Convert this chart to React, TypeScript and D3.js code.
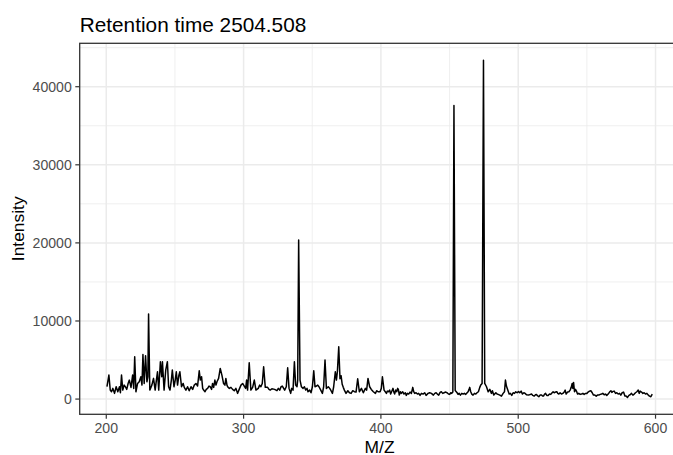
import React from "react";
import * as d3 from "d3";

const chartTitle = "Retention time 2504.508";
const xLabel = "M/Z";
const yLabel = "Intensity";
const xTicks = [200, 300, 400, 500, 600];
const xMinor = [250, 350, 450, 550];
const yTicks = [0, 10000, 20000, 30000, 40000];
const yMinor = [5000, 15000, 25000, 35000, 45000];

const mz = [
  200.5, 201.9, 202.9, 203.8, 204.8, 206.0, 207.2, 208.4, 209.6, 210.3, 211.1, 212.0, 213.0, 213.9, 214.9, 215.9, 216.8, 218.0, 219.2, 220.0,
  220.7, 221.6, 222.8, 224.0, 225.2, 226.0, 226.7, 227.6, 228.6, 229.6, 230.3, 230.8, 231.7, 233.2, 234.4, 235.6, 236.5, 237.3, 238.2, 239.4,
  240.4, 240.9, 242.1, 243.3, 244.5, 245.4, 246.4, 247.4, 248.1, 249.3, 250.2, 251.0, 251.9, 252.9, 253.6, 254.8, 256.0,
  256.8, 258.0, 259.2, 260.4, 261.7, 262.9, 264.1, 265.3, 266.5, 267.7, 268.5, 269.4, 270.2, 270.9, 271.9, 272.8, 273.8, 274.8, 275.7, 276.7,
  277.4, 278.2, 279.1, 279.9, 280.6, 281.8, 283.0, 284.2, 285.4, 286.4, 287.1, 287.9, 288.4, 289.6, 290.8, 292.0, 293.2, 294.4, 295.6, 296.8,
  298.1, 299.3, 300.5, 301.5, 302.2, 302.9, 304.1, 305.3, 306.6, 307.8, 309.0, 310.7, 311.7, 312.6, 313.6, 314.6, 315.8, 317.5, 318.5, 319.4, 320.6,
  322.6, 324.3, 325.3, 326.3, 327.3, 328.2, 329.2, 329.9, 331.1, 332.1, 333.1, 334.3, 335.0, 336.0, 337.0, 337.9, 338.9, 339.4, 340.1, 341.1,
  342.1, 343.3, 344.3, 345.2, 346.2, 346.9, 348.1, 349.1, 350.1, 351.1, 352.0, 353.0, 354.0, 354.9, 356.2, 357.4, 358.3, 359.3, 360.3, 361.7,
  362.7, 363.7, 364.7, 365.6, 366.8, 367.6, 368.3, 369.3, 370.2, 371.0, 371.8, 372.6, 373.4, 374.6, 375.9, 377.1, 378.3, 379.5, 380.7, 381.9,
  383.1, 384.3,
  385.8, 387.2, 388.7, 389.6, 390.6, 391.8, 393.0, 394.5, 396.0, 396.9, 397.9, 399.4, 400.3, 401.1, 402.3, 403.2, 404.0, 404.7, 405.7, 406.4,
  407.1, 408.1, 408.8, 409.6, 410.0, 410.8, 411.5, 412.2, 412.7, 413.4, 414.2, 414.9, 415.9, 416.8, 417.8, 418.5, 419.3, 420.2, 421.2, 422.2,
  423.2, 423.9, 424.6, 425.6, 426.6, 427.5, 428.5, 429.5, 430.7, 431.9, 432.9, 434.3, 435.5, 436.8, 438.2, 439.2, 440.2, 441.1, 442.1, 443.1,
  444.0, 445.0, 446.0,
  447.2, 448.2, 449.2, 450.1, 450.9, 451.6, 452.4, 453.2, 454.1, 455.5, 456.2, 457.0, 457.9, 458.9, 459.9, 460.8, 461.8, 462.8, 463.5, 464.2,
  464.7, 465.4, 466.2, 467.1, 468.1, 469.1, 470.0, 471.0, 472.0, 472.7, 473.7, 474.7, 475.6, 476.9, 478.1, 479.3, 480.5, 481.2, 482.2, 483.7,
  484.6, 485.4, 486.6, 487.8, 489.0, 490.0, 490.7, 491.4, 492.4, 493.4, 494.3, 495.3, 496.3, 497.3, 498.2, 499.2, 500.2, 501.1, 502.1, 503.1,
  504.1, 505.0, 506.0, 507.5,
  509.7, 510.6, 511.6, 512.6, 513.3, 514.0, 515.0, 516.0, 517.0, 517.7, 518.4, 519.1, 519.9, 520.8, 521.8, 522.8, 523.7, 524.7, 525.4, 526.2,
  527.1, 528.1, 528.8, 529.6, 530.5, 531.5, 532.5, 533.5, 534.2, 534.9, 535.9, 536.9, 537.8, 538.6, 539.3, 539.8, 540.3, 541.0, 541.7, 542.4,
  543.2, 544.1, 545.1, 546.1, 547.1, 548.0, 549.0, 550.0, 550.9, 551.9, 552.9, 553.9, 554.8, 555.8, 556.8, 557.7, 558.7, 559.7, 560.7, 561.6,
  562.6, 563.6, 564.5, 565.5, 566.5, 567.5, 568.2, 568.9, 569.9, 570.9, 571.8, 572.8, 573.8, 574.7, 575.7, 576.7, 577.7, 578.6, 579.6, 580.6,
  581.5, 582.5, 583.5, 584.5, 585.4, 586.4, 587.4, 588.1, 588.8, 589.8, 590.8, 591.7, 592.7, 593.7, 594.7, 595.6, 596.6, 597.6,
];

const intensity = [
  1580, 3070, 1150, 940, 1370, 730, 1580, 940, 1580, 810, 3070, 1150, 1790, 1580, 1240, 2000, 2430, 1490, 3070, 1370,
  5420, 940, 2000, 2220, 2860, 1790, 5720, 2000, 5550, 2220, 2860, 10890, 1150, 1790, 2650, 1150, 2430, 3500, 1150, 4780,
  2860, 4780, 1150, 3710, 4780, 1580, 1150, 2430, 3710, 1580, 2430, 3500, 1790, 3070, 3500, 1580, 2000,
  1500, 1150, 1580, 1070, 1580, 1240, 1790, 2000, 1670, 3630, 2430, 2860, 1370, 1150, 940, 1240, 1370, 1670, 1580, 1240,
  2000, 1500, 2430, 1790, 2220, 2650, 3930, 3070, 2000, 1790, 2650, 1790, 1580, 1370, 1500, 1240, 1070, 1370, 730, 1240,
  1790, 2000, 1670, 1370, 2430, 1150, 4650, 1150, 1500, 2430, 1150, 1370, 1790, 1580, 2000, 4140, 1500, 1500, 1240, 1150, 1320,
  1240, 1070, 1370, 1150, 1580, 1670, 1370, 1150, 1580, 4010, 1370, 730, 1370, 1150, 4780, 1790, 1580, 2430, 20370, 2430,
  1580, 1370, 1580, 1150, 1370, 940, 1150, 810, 1580, 3630, 1580, 1670, 1790, 1580, 1150, 730, 1580, 5000, 1370, 1580,
  1370, 1070, 730, 1580, 3500, 2430, 3500, 6700, 2600, 3000, 1900, 1500, 1150, 730, 1070, 810, 730, 1070, 940, 900,
  2600, 940,
  1370, 810, 1370, 1150, 2650, 1580, 1240, 940, 730, 1070, 940, 940, 1370, 2860, 1150, 940, 730, 1020, 940, 1150,
  640, 1070, 1370, 810, 640, 1150, 940, 1370, 1240, 510, 940, 730, 940, 640, 810, 470, 730, 640, 900, 730,
  1500, 940, 730, 810, 640, 730, 470, 730, 640, 810, 470, 730, 810, 730, 510, 730, 810, 640, 510, 850,
  940, 730, 810,
  900, 810, 640, 600, 810, 730, 900, 37600, 1100, 810, 600, 730, 510, 730, 640, 730, 600, 810, 940, 1240,
  1500, 940, 640, 510, 730, 640, 810, 940, 1500, 1790, 2000, 43400, 2000, 1580, 940, 1240, 730, 1070, 510, 810,
  640, 600, 510, 380, 730, 940, 2430, 1670, 1150, 640, 730, 470, 810, 730, 940, 810, 980, 810, 1020, 640,
  810, 730, 550, 510,
  640, 470, 380, 550, 600, 430, 300, 510, 510, 380, 380, 600, 730, 470, 470, 640, 600, 810, 940, 810,
  900, 940, 730, 640, 810, 640, 730, 900, 1150, 640, 900, 940, 1150, 1500, 2000, 1370, 2130, 940, 1240, 1020,
  640, 730, 600, 640, 730, 600, 730, 730, 900, 1020, 1070, 810, 510, 510, 380, 510, 510, 600, 640, 730,
  550, 640, 470, 640, 900, 1070, 850, 980, 1020, 730, 810, 640, 730, 510, 810, 900, 380, 380, 210, 470,
  550, 730, 510, 640, 810, 940, 1150, 730, 1020, 900, 730, 810, 640, 730, 510, 380, 300, 640,
];

const W = 673;
const H = 455;
const panel = { left: 79.7, right: 679.5, top: 43.3, bottom: 414.3 };
const FONT = "'Liberation Sans', Arial, Helvetica, sans-serif";

export default function App() {
  const data = mz.map((m, i) => ({ x: m, y: intensity[i] }));
  const [xmin, xmax] = d3.extent(mz) as [number, number];
  const [ymin, ymax] = d3.extent(intensity) as [number, number];
  const xr = xmax - xmin;
  const yr = ymax - ymin;
  const x = d3
    .scaleLinear()
    .domain([xmin - 0.05 * xr, xmax + 0.05 * xr])
    .range([panel.left, panel.right]);
  const y = d3
    .scaleLinear()
    .domain([ymin - 0.05 * yr, ymax + 0.05 * yr])
    .range([panel.bottom, panel.top]);
  const line = d3
    .line<{ x: number; y: number }>()
    .x((d) => x(d.x))
    .y((d) => y(d.y));

  const inPanelY = (v: number) => y(v) >= panel.top && y(v) <= panel.bottom;
  const inPanelX = (v: number) => x(v) >= panel.left && x(v) <= panel.right;

  return (
    <div style={{ position: "absolute", left: 0, top: 0, width: W, height: H, overflow: "hidden", background: "#fff" }}>
      <svg width={W} height={H} style={{ display: "block" }} fontFamily={FONT}>
        <rect x={0} y={0} width={W} height={H} fill="#fff" />
        <defs>
          <clipPath id="panelClip">
            <rect x={panel.left} y={panel.top} width={panel.right - panel.left} height={panel.bottom - panel.top} />
          </clipPath>
        </defs>
        {/* minor grid */}
        {yMinor.filter(inPanelY).map((v) => (
          <line key={"ym" + v} x1={panel.left} x2={panel.right} y1={y(v)} y2={y(v)} stroke="#EBEBEB" strokeWidth={0.8} />
        ))}
        {xMinor.filter(inPanelX).map((v) => (
          <line key={"xm" + v} x1={x(v)} x2={x(v)} y1={panel.top} y2={panel.bottom} stroke="#EBEBEB" strokeWidth={0.8} />
        ))}
        {/* major grid */}
        {yTicks.map((v) => (
          <line key={"yg" + v} x1={panel.left} x2={panel.right} y1={y(v)} y2={y(v)} stroke="#EBEBEB" strokeWidth={1.5} />
        ))}
        {xTicks.map((v) => (
          <line key={"xg" + v} x1={x(v)} x2={x(v)} y1={panel.top} y2={panel.bottom} stroke="#EBEBEB" strokeWidth={1.5} />
        ))}
        {/* data */}
        <path d={line(data) || ""} fill="none" stroke="#000" strokeWidth={1.5} strokeLinejoin="round" clipPath="url(#panelClip)" />
        {/* border */}
        <rect
          x={panel.left}
          y={panel.top}
          width={panel.right - panel.left}
          height={panel.bottom - panel.top}
          fill="none"
          stroke="#333333"
          strokeWidth={1.3}
        />
        {/* y ticks */}
        {yTicks.map((v) => (
          <g key={"yt" + v}>
            <line x1={panel.left - 4.4} x2={panel.left} y1={y(v)} y2={y(v)} stroke="#333333" strokeWidth={1.2} />
            <text x={panel.left - 7.9} y={y(v)} dy="0.35em" textAnchor="end" fontSize={14.1} fill="#4D4D4D">
              {String(v)}
            </text>
          </g>
        ))}
        {/* x ticks */}
        {xTicks.map((v) => (
          <g key={"xt" + v}>
            <line x1={x(v)} x2={x(v)} y1={panel.bottom} y2={panel.bottom + 4.4} stroke="#333333" strokeWidth={1.2} />
            <text x={x(v)} y={433.3} textAnchor="middle" fontSize={14.1} fill="#4D4D4D">
              {String(v)}
            </text>
          </g>
        ))}
        {/* axis titles */}
        <text x={(panel.left + panel.right) / 2} y={452.5} textAnchor="middle" fontSize={17.4} fill="#000">
          {xLabel}
        </text>
        <text
          transform={`translate(24,${(panel.top + panel.bottom) / 2}) rotate(-90)`}
          textAnchor="middle"
          fontSize={17.4}
          fill="#000"
        >
          {yLabel}
        </text>
        {/* title */}
        <text x={panel.left} y={31.5} fontSize={20.8} fill="#000">
          {chartTitle}
        </text>
      </svg>
    </div>
  );
}
